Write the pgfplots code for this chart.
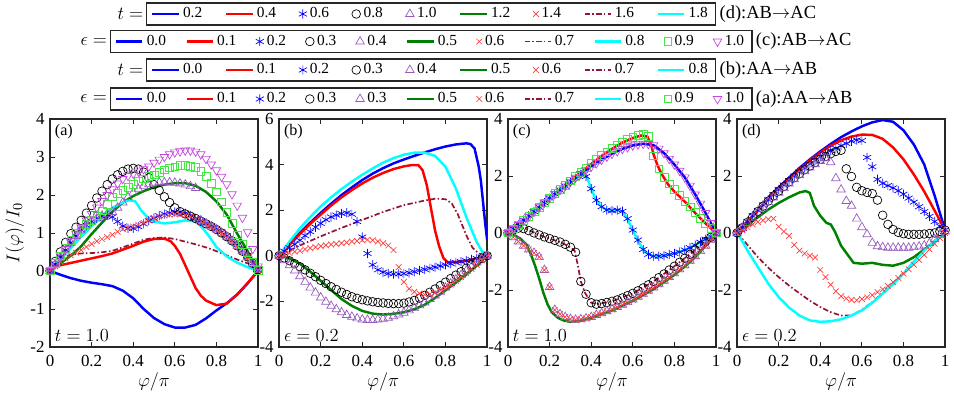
\documentclass[border=0pt]{standalone}
\usepackage{fontspec}
\setmainfont{Liberation Serif}
\usepackage{pgfplots}
\usepackage{pgfplotstable}
\pgfplotsset{compat=1.18}

\definecolor{mblue}{rgb}{0,0,1}
\definecolor{mred}{rgb}{1,0,0}
\definecolor{mgreen}{rgb}{0,0.5,0}
\definecolor{mcyan}{rgb}{0,1,1}
\definecolor{mpurple}{RGB}{150,90,190}
\definecolor{mxred}{RGB}{255,60,60}
\definecolor{mlgreen}{RGB}{70,230,70}
\definecolor{mmag}{RGB}{195,70,220}
\definecolor{mdash}{RGB}{150,20,50}

% marker series, x step 0.025
\pgfplotstableread{
x     s2    s3    s4    s6    s9    s10
0     0     0     0     0     0     0
0.025 0.18  0.25  0.18  0.12  0.2   0.18
0.05  0.36  0.5   0.36  0.24  0.4   0.38
0.075 0.55  0.75  0.55  0.33  0.6   0.58
0.1   0.74  0.98  0.74  0.41  0.8   0.78
0.125 0.92  1.15  0.92  0.48  0.98  0.97
0.15  1.08  1.33  1.08  0.55  1.1   1.15
0.175 1.2   1.52  1.2   0.63  1.22  1.33
0.2   1.3   1.72  1.3   0.71  1.33  1.5
0.225 1.38  1.92  1.38  0.78  1.45  1.67
0.25  1.44  2.1   1.45  0.84  1.58  1.84
0.275 1.46  2.27  1.5   0.89  1.75  2.0
0.3   1.42  2.42  1.55  0.95  1.95  2.15
0.325 1.3   2.53  1.66  1.03  2.05  2.3
0.35  1.18  2.62  1.8   1.1   2.12  2.42
0.375 1.12  2.68  1.94  1.14  2.2   2.5
0.4   1.12  2.7   2.06  1.17  2.28  2.56
0.425 1.16  2.68  2.16  1.21  2.35  2.62
0.45  1.24  2.6   2.24  1.26  2.42  2.68
0.475 1.32  2.45  2.29  1.33  2.48  2.75
0.5   1.39  2.27  2.32  1.39  2.53  2.85
0.525 1.45  2.12  2.33  1.43  2.6   2.93
0.55  1.5   1.95  2.33  1.46  2.66  3.0
0.575 1.53  1.8   2.33  1.48  2.71  3.07
0.6   1.55  1.66  2.32  1.49  2.74  3.12
0.625 1.55  1.56  2.3   1.49  2.77  3.15
0.65  1.52  1.5   2.27  1.47  2.77  3.17
0.675 1.46  1.44  2.23  1.43  2.75  3.17
0.7   1.38  1.38  2.18  1.37  2.72  3.14
0.725 1.32  1.31  1.33  1.3   2.62  3.07
0.75  1.25  1.24  1.25  1.23  2.48  2.95
0.775 1.18  1.17  1.17  1.16  2.3   2.8
0.8   1.1   1.09  1.09  1.08  2.08  2.65
0.825 1.02  1.0   1.0   0.99  1.82  2.48
0.85  0.92  0.9   0.9   0.89  1.55  2.28
0.875 0.8   0.79  0.79  0.78  1.25  2.02
0.9   0.68  0.66  0.66  0.65  0.95  1.72
0.925 0.53  0.52  0.52  0.51  0.7   1.4
0.95  0.37  0.37  0.37  0.36  0.48  1.02
0.975 0.2   0.2   0.2   0.19  0.24  0.58
1     0.03  0.03  0.03  0.03  0.02  0.12
}\tabA

\pgfplotstableread{
x     s2    s3    s4    s6
0     0     0     0     0
0.025 0.2   -0.1  -0.2  0.05
0.05  0.35  -0.22 -0.42 0.12
0.075 0.5   -0.35 -0.65 0.18
0.1   0.68  -0.48 -0.9  0.22
0.125 0.88  -0.62 -1.15 0.28
0.15  1.05  -0.77 -1.4  0.33
0.175 1.25  -0.92 -1.62 0.38
0.2   1.42  -1.08 -1.83 0.42
0.225 1.58  -1.22 -2.02 0.46
0.25  1.7   -1.36 -2.2  0.49
0.275 1.78  -1.48 -2.35 0.52
0.3   1.85  -1.6  -2.48 0.55
0.325 1.88  -1.7  -2.6  0.58
0.35  1.82  -1.8  -2.68 0.62
0.375 1.5   -1.87 -2.75 0.65
0.4   0.82  -1.93 -2.8  0.68
0.425 0.1   -1.98 -2.82 0.7
0.45  -0.4  -2.02 -2.82 0.68
0.475 -0.62 -2.05 -2.8  0.62
0.5   -0.72 -2.07 -2.77 0.55
0.525 -0.78 -2.09 -2.72 0.45
0.55  -0.8  -2.1  -2.66 0.25
0.575 -0.8  -2.1  -2.58 -0.5
0.6   -0.78 -2.08 -2.5  -1.15
0.625 -0.75 -2.03 -2.4  -1.45
0.65  -0.7  -1.96 -2.3  -1.58
0.675 -0.65 -1.86 -2.18 -1.65
0.7   -0.6  -1.74 -2.05 -1.7
0.725 -0.55 -1.6  -1.9  -1.68
0.75  -0.5  -1.46 -1.75 -1.62
0.775 -0.45 -1.31 -1.58 -1.52
0.8   -0.4  -1.16 -1.4  -1.4
0.825 -0.35 -1.0  -1.22 -1.26
0.85  -0.3  -0.85 -1.04 -1.1
0.875 -0.26 -0.7  -0.85 -0.94
0.9   -0.22 -0.55 -0.66 -0.77
0.925 -0.17 -0.4  -0.48 -0.58
0.95  -0.12 -0.26 -0.3  -0.4
0.975 -0.06 -0.13 -0.15 -0.2
1     0     0     0     0
}\tabB

\pgfplotstableread{
x     s2    s3    s4    s9    s10
0     0     0     0     0     0
0.025 0.15  0.1   -0.15 0.14  0.14
0.05  0.3   0.17  -0.3  0.28  0.28
0.075 0.45  0.15  -0.45 0.43  0.43
0.1   0.6   0.08  -0.58 0.58  0.57
0.125 0.75  0.0   -0.7  0.74  0.74
0.15  0.9   -0.07 -0.85 0.9   0.9
0.175 1.06  -0.14 -1.3  1.06  1.06
0.2   1.22  -0.2  -1.9  1.22  1.22
0.225 1.36  -0.26 -2.7  1.38  1.37
0.25  1.5   -0.32 -2.85 1.53  1.52
0.275 1.64  -0.4  -2.95 1.68  1.66
0.3   1.78  -0.5  -3.02 1.83  1.8
0.325 1.92  -0.68 -3.05 1.98  1.94
0.35  2.05  -1.7  -3.03 2.13  2.07
0.375 1.98  -2.15 -3.0  2.28  2.2
0.4   1.55  -2.45 -2.95 2.43  2.33
0.425 1.15  -2.5  -2.88 2.57  2.45
0.45  0.92  -2.48 -2.82 2.71  2.57
0.475 0.8   -2.44 -2.75 2.84  2.68
0.5   0.78  -2.4  -2.68 2.97  2.78
0.525 0.8   -2.35 -2.6  3.08  2.87
0.55  0.76  -2.28 -2.52 3.19  2.95
0.575 0.5   -2.2  -2.43 3.28  3.01
0.6   0.1   -2.12 -2.34 3.36  3.07
0.625 -0.25 -2.03 -2.24 3.42  3.11
0.65  -0.58 -1.93 -2.14 3.45  3.13
0.675 -0.75 -1.82 -2.03 3.38  3.12
0.7   -0.82 -1.7  -1.92 2.7   3.08
0.725 -0.82 -1.57 -1.8  2.25  2.96
0.75  -0.8  -1.44 -1.68 1.95  2.8
0.775 -0.76 -1.3  -1.55 1.72  2.6
0.8   -0.72 -1.17 -1.42 1.52  2.4
0.825 -0.67 -1.03 -1.28 1.32  2.18
0.85  -0.6  -0.89 -1.14 1.12  1.95
0.875 -0.52 -0.75 -0.98 0.92  1.66
0.9   -0.43 -0.6  -0.82 0.72  1.35
0.925 -0.33 -0.45 -0.64 0.52  1.03
0.95  -0.22 -0.3  -0.45 0.34  0.7
0.975 -0.12 -0.15 -0.24 0.17  0.35
1     -0.03 0     -0.02 0     0
}\tabC

\pgfplotstableread{
x     s2    s3    s4    s6
0     0     0     0     0
0.025 0.2   0.18  0.17  0.1
0.05  0.4   0.37  0.35  0.2
0.075 0.6   0.56  0.53  0.3
0.1   0.79  0.75  0.71  0.38
0.125 0.98  0.94  0.89  0.44
0.15  1.16  1.12  1.07  0.48
0.175 1.34  1.3   1.24  0.5
0.2   1.52  1.47  1.41  0.22
0.225 1.68  1.63  1.57  0.05
0.25  1.84  1.79  1.73  -0.1
0.275 1.99  1.94  1.88  -0.42
0.3   2.14  2.08  2.02  -0.62
0.325 2.28  2.22  2.16  -0.72
0.35  2.42  2.35  2.29  -0.8
0.375 2.55  2.47  2.41  -0.86
0.4   2.67  2.58  2.52  -1.3
0.425 2.78  2.68  2.62  -1.55
0.45  2.88  2.78  2.48  -1.82
0.475 2.97  2.86  1.92  -2.05
0.5   3.06  2.9   1.52  -2.22
0.525 3.14  2.25  1.12  -2.3
0.55  3.22  1.98  0.95  -2.35
0.575 3.26  1.6   0.5   -2.36
0.6   3.24  1.48  0.2   -2.32
0.625 2.65  1.42  -0.05 -2.26
0.65  2.32  1.38  -0.35 -2.18
0.675 1.88  1.15  -0.47 -2.08
0.7   1.74  0.62  -0.5  -1.98
0.725 1.66  0.3   -0.52 -1.86
0.75  1.58  0.12  -0.52 -1.73
0.775 1.48  0.02  -0.52 -1.58
0.8   1.36  -0.03 -0.52 -1.43
0.825 1.22  -0.05 -0.52 -1.28
0.85  1.08  -0.05 -0.5  -1.12
0.875 0.92  -0.05 -0.48 -0.95
0.9   0.75  -0.04 -0.44 -0.77
0.925 0.58  -0.02 -0.36 -0.58
0.95  0.4   0.0   -0.22 -0.38
0.975 0.24  0.05  -0.08 -0.18
1     0.1   0.1   0.05  0
}\tabD

\pgfplotsset{
  panel/.style={scale only axis, width=135.2pt, height=148.2pt,
    xmin=0, xmax=1, xtick={0,0.2,0.4,0.6,0.8,1},
    axis line style={black!85, line width=0.9pt},
    tick style={black!85, line width=0.5pt}, major tick length=3.5pt,
    tick align=inside,
    tick label style={font=\fontsize{11}{12}\selectfont},
    xticklabel style={yshift=-2pt},
    /pgf/number format/assume math mode=true,
    xlabel={$\varphi/\pi$},
    xlabel style={font=\fontsize{13}{14}\selectfont, at={(0.5,-0.155)}, anchor=center},
    legend cell align=left,
    legend style={draw=black!85, line width=1pt, anchor=center,
      font=\fontsize{10}{11}\selectfont, inner xsep=3pt, inner ysep=1pt}},
  c0/.style={color=mblue, line width=1.6pt, mark=none},
  c1/.style={color=mred, line width=1.6pt, mark=none},
  c2/.style={color=mblue, only marks, mark=asterisk, mark size=3pt, line width=0.45pt},
  c3/.style={color=black, only marks, mark=o, mark size=2.8pt, line width=0.45pt},
  c4/.style={color=mpurple, only marks, mark=triangle, mark size=3.2pt, line width=0.45pt},
  c5/.style={color=mgreen, line width=1.6pt, mark=none},
  c6/.style={color=mxred, only marks, mark=x, mark size=2.6pt, line width=0.45pt},
  c7/.style={color=mdash, line width=1.1pt, dash pattern=on 3.5pt off 1.5pt on 1pt off 1.5pt, mark=none},
  c8/.style={color=mcyan, line width=1.6pt, mark=none},
  c9/.style={color=mlgreen, only marks, mark=square, mark size=2.5pt, line width=0.45pt},
  c10/.style={color=mmag, only marks, mark=triangle, mark size=3.2pt, mark options={rotate=180}, line width=0.45pt},
  wide/.style={legend columns=11, legend style={/tikz/every even column/.append style={column sep=10.6pt}}},
  narrow/.style={legend columns=9, legend style={/tikz/every even column/.append style={column sep=12.8pt}}},
}

\begin{document}
\begin{tikzpicture}
\useasboundingbox (0,0) rectangle (620.1pt,258.7pt);

% (a)
\begin{axis}[panel, wide, at={(32.5pt,33.2pt)}, anchor=south west,
  ymin=-2, ymax=4, ytick={-2,-1,0,1,2,3,4},
  ylabel={$I(\varphi)/I_0$},
  ylabel style={font=\fontsize{13}{14}\selectfont, at={(-0.17,0.5)}, anchor=center},
  legend style={at={(1.832,1.0874)}, name=legA}]
\addplot[c0] coordinates {(0,0)(0.05,-0.1)(0.1,-0.19)(0.15,-0.26)(0.2,-0.31)(0.25,-0.35)(0.3,-0.4)(0.35,-0.52)(0.4,-0.72)(0.45,-1.0)(0.5,-1.24)(0.55,-1.4)(0.6,-1.49)(0.65,-1.49)(0.7,-1.42)(0.75,-1.25)(0.8,-1.04)(0.85,-0.85)(0.9,-0.62)(0.95,-0.33)(1,0)};
\addplot[c1] coordinates {(0,0)(0.02,0.1)(0.05,0.15)(0.1,0.21)(0.15,0.27)(0.2,0.33)(0.25,0.39)(0.3,0.46)(0.35,0.56)(0.4,0.66)(0.45,0.77)(0.5,0.84)(0.55,0.85)(0.58,0.78)(0.6,0.66)(0.625,0.45)(0.65,0.15)(0.675,-0.15)(0.7,-0.45)(0.725,-0.65)(0.75,-0.78)(0.8,-0.9)(0.85,-0.86)(0.9,-0.62)(0.95,-0.32)(1,0)};
\addplot[c2] table[x=x,y=s2]{\tabA};
\addplot[c3] table[x=x,y=s3]{\tabA};
\addplot[c4] table[x=x,y=s4]{\tabA};
\addplot[c5] coordinates {(0,0)(0.05,0.2)(0.1,0.4)(0.15,0.65)(0.2,0.97)(0.25,1.27)(0.3,1.56)(0.35,1.8)(0.4,1.97)(0.45,2.1)(0.5,2.2)(0.55,2.27)(0.6,2.31)(0.65,2.31)(0.7,2.24)(0.75,2.08)(0.8,1.83)(0.85,1.48)(0.9,0.98)(0.95,0.52)(1,0)};
\addplot[c6] table[x=x,y=s6]{\tabA};
\addplot[c7] coordinates {(0,0)(0.03,0.2)(0.06,0.35)(0.1,0.43)(0.15,0.46)(0.2,0.47)(0.25,0.49)(0.3,0.53)(0.35,0.62)(0.4,0.72)(0.45,0.82)(0.5,0.87)(0.55,0.88)(0.6,0.84)(0.65,0.77)(0.7,0.7)(0.75,0.62)(0.8,0.52)(0.85,0.41)(0.9,0.3)(0.95,0.2)(0.98,0.12)(1,0)};
\addplot[c8] coordinates {(0,0)(0.05,0.3)(0.1,0.6)(0.15,0.9)(0.2,1.18)(0.25,1.45)(0.3,1.66)(0.35,1.8)(0.38,1.86)(0.41,1.83)(0.44,1.58)(0.47,1.4)(0.5,1.3)(0.55,1.25)(0.6,1.28)(0.65,1.33)(0.7,1.3)(0.73,1.15)(0.76,0.95)(0.8,0.63)(0.85,0.38)(0.9,0.22)(0.95,0.1)(1,0)};
\addplot[c9] table[x=x,y=s9]{\tabA};
\addplot[c10] table[x=x,y=s10]{\tabA};
\legend{0.0,0.1,0.2,0.3,0.3,0.5,0.6,0.7,0.8,0.9,1.0}
\node[anchor=north west, font=\fontsize{10.5}{12}\selectfont, inner sep=3pt] at (rel axis cs:0,1) {(a)};
\node[anchor=south west, font=\fontsize{12}{12}\selectfont, inner sep=3pt] at (rel axis cs:0,0) {$t=1.0$};
\end{axis}

% (b)
\begin{axis}[panel, narrow, at={(181.4pt,33.2pt)}, anchor=south west,
  ymin=-4, ymax=6, ytick={-4,-2,0,2,4,6},
  legend style={at={(0.7308,1.2146)}, name=legB}]
\addplot[c0] coordinates {(0,0)(0.05,0.5)(0.1,1.0)(0.15,1.45)(0.2,1.88)(0.25,2.28)(0.3,2.66)(0.35,3.0)(0.4,3.32)(0.45,3.6)(0.5,3.84)(0.55,4.05)(0.6,4.22)(0.65,4.38)(0.7,4.53)(0.75,4.67)(0.8,4.79)(0.85,4.88)(0.9,4.93)(0.92,4.9)(0.94,4.7)(0.96,3.9)(0.97,3.3)(0.98,2.4)(0.99,1.5)(1,0.7)};
\addplot[c1] coordinates {(0,0)(0.05,0.48)(0.1,0.95)(0.15,1.4)(0.2,1.8)(0.25,2.2)(0.3,2.56)(0.35,2.88)(0.4,3.17)(0.45,3.42)(0.5,3.63)(0.55,3.8)(0.6,3.92)(0.64,3.98)(0.67,3.97)(0.69,3.75)(0.71,3.1)(0.73,2.1)(0.75,1.1)(0.77,0.4)(0.79,-0.1)(0.81,-0.28)(0.85,-0.27)(0.9,-0.22)(0.95,-0.12)(1,0)};
\addplot[c2] table[x=x,y=s2]{\tabB};
\addplot[c3] table[x=x,y=s3]{\tabB};
\addplot[c4] table[x=x,y=s4]{\tabB};
\addplot[c5] coordinates {(0,0)(0.05,-0.12)(0.1,-0.35)(0.15,-0.7)(0.2,-1.1)(0.25,-1.5)(0.3,-1.9)(0.35,-2.2)(0.4,-2.42)(0.45,-2.54)(0.5,-2.58)(0.55,-2.55)(0.6,-2.48)(0.65,-2.35)(0.7,-2.15)(0.75,-1.85)(0.8,-1.52)(0.85,-1.18)(0.9,-0.83)(0.95,-0.43)(1,0)};
\addplot[c6] table[x=x,y=s6]{\tabB};
\addplot[c7] coordinates {(0,0)(0.1,0.45)(0.2,0.85)(0.3,1.22)(0.4,1.57)(0.5,1.92)(0.6,2.22)(0.7,2.42)(0.75,2.5)(0.8,2.48)(0.83,2.3)(0.86,1.8)(0.9,0.9)(0.93,0.35)(0.96,0.1)(1,0)};
\addplot[c8] coordinates {(0,0)(0.05,0.62)(0.1,1.2)(0.15,1.7)(0.2,2.16)(0.25,2.56)(0.3,2.92)(0.35,3.25)(0.4,3.55)(0.45,3.83)(0.5,4.08)(0.55,4.28)(0.6,4.43)(0.65,4.52)(0.7,4.52)(0.75,4.38)(0.8,3.9)(0.85,2.95)(0.9,1.7)(0.95,0.6)(0.975,0.2)(1,0.07)};
\legend{0.0,0.1,0.2,0.3,0.4,0.5,0.6,0.7,0.8}
\node[anchor=north west, font=\fontsize{10.5}{12}\selectfont, inner sep=3pt] at (rel axis cs:0,1) {(b)};
\node[anchor=south west, font=\fontsize{12}{12}\selectfont, inner sep=3pt] at (rel axis cs:0,0) {$\epsilon=0.2$};
\end{axis}

% (c)
\begin{axis}[panel, wide, at={(330.2pt,33.2pt)}, anchor=south west,
  ymin=-4, ymax=4, ytick={-4,-2,0,2,4},
  legend style={at={(-0.3698,1.3394)}, name=legC}]
\addplot[c0] coordinates {(0,0)(0.05,0.28)(0.1,0.57)(0.15,0.9)(0.2,1.22)(0.25,1.52)(0.3,1.8)(0.35,2.07)(0.4,2.33)(0.45,2.57)(0.5,2.78)(0.55,2.95)(0.6,3.07)(0.65,3.13)(0.7,3.08)(0.75,2.8)(0.8,2.4)(0.85,1.95)(0.9,1.35)(0.95,0.7)(1,0)};
\addplot[c1] coordinates {(0,0)(0.05,0.28)(0.1,0.57)(0.15,0.9)(0.2,1.22)(0.25,1.52)(0.3,1.82)(0.35,2.12)(0.4,2.42)(0.45,2.7)(0.5,2.95)(0.55,3.17)(0.6,3.33)(0.64,3.42)(0.67,3.38)(0.69,3.05)(0.7,2.75)(0.72,2.35)(0.74,2.05)(0.77,1.7)(0.8,1.45)(0.85,1.1)(0.9,0.7)(0.95,0.33)(1,0)};
\addplot[c2] table[x=x,y=s2]{\tabC};
\addplot[c3] table[x=x,y=s3]{\tabC};
\addplot[c4] table[x=x,y=s4]{\tabC};
\addplot[c5] coordinates {(0,0)(0.03,-0.08)(0.06,-0.2)(0.09,-0.42)(0.11,-0.75)(0.13,-1.15)(0.15,-1.6)(0.17,-2.1)(0.19,-2.5)(0.21,-2.78)(0.24,-2.98)(0.27,-3.08)(0.3,-3.12)(0.35,-3.08)(0.4,-2.98)(0.45,-2.85)(0.5,-2.72)(0.55,-2.55)(0.6,-2.38)(0.65,-2.18)(0.7,-1.97)(0.75,-1.73)(0.8,-1.47)(0.85,-1.18)(0.9,-0.85)(0.95,-0.45)(1,-0.02)};
\addplot[c6] table[x=x,y=s4]{\tabC};
\addplot[c7] coordinates {(0,0)(0.05,0.17)(0.08,0.16)(0.12,0.03)(0.15,-0.07)(0.2,-0.2)(0.25,-0.32)(0.3,-0.5)(0.32,-0.62)(0.335,-1.1)(0.35,-1.7)(0.37,-2.1)(0.4,-2.45)(0.43,-2.5)(0.5,-2.4)(0.6,-2.12)(0.7,-1.7)(0.8,-1.17)(0.9,-0.6)(1,0)};
\addplot[c8] coordinates {(0,0)(0.05,0.3)(0.1,0.6)(0.15,0.9)(0.2,1.22)(0.25,1.5)(0.3,1.78)(0.34,2.0)(0.36,2.08)(0.38,1.95)(0.4,1.55)(0.42,1.2)(0.44,0.98)(0.47,0.82)(0.5,0.78)(0.53,0.8)(0.55,0.75)(0.57,0.55)(0.6,0.1)(0.63,-0.35)(0.66,-0.68)(0.7,-0.82)(0.75,-0.8)(0.8,-0.72)(0.85,-0.6)(0.9,-0.42)(0.95,-0.22)(1,-0.03)};
\addplot[c9] table[x=x,y=s9]{\tabC};
\addplot[c10] table[x=x,y=s10]{\tabC};
\legend{0.0,0.1,0.2,0.3,0.4,0.5,0.6,0.7,0.8,0.9,1.0}
\node[anchor=north west, font=\fontsize{10.5}{12}\selectfont, inner sep=3pt] at (rel axis cs:0,1) {(c)};
\node[anchor=south west, font=\fontsize{12}{12}\selectfont, inner sep=3pt] at (rel axis cs:0,0) {$t=1.0$};
\end{axis}

% (d)
\begin{axis}[panel, narrow, at={(479.1pt,33.2pt)}, anchor=south west,
  ymin=-4, ymax=4, ytick={-4,-2,0,2,4},
  legend style={at={(-1.4712,1.4602)}, name=legD}]
\addplot[c0] coordinates {(0,0)(0.05,0.4)(0.1,0.8)(0.15,1.2)(0.2,1.58)(0.25,1.94)(0.3,2.28)(0.35,2.58)(0.4,2.86)(0.45,3.12)(0.5,3.36)(0.55,3.56)(0.6,3.74)(0.65,3.88)(0.7,3.96)(0.75,3.9)(0.8,3.6)(0.85,3.1)(0.9,2.4)(0.95,1.3)(1,0.1)};
\addplot[c1] coordinates {(0,0)(0.05,0.4)(0.1,0.8)(0.15,1.2)(0.2,1.57)(0.25,1.92)(0.3,2.24)(0.35,2.55)(0.4,2.82)(0.45,3.06)(0.5,3.25)(0.55,3.38)(0.6,3.45)(0.65,3.44)(0.7,3.3)(0.75,3.0)(0.8,2.58)(0.85,2.05)(0.9,1.45)(0.95,0.78)(1,0.1)};
\addplot[c2] table[x=x,y=s2]{\tabD};
\addplot[c3] table[x=x,y=s3]{\tabD};
\addplot[c4] table[x=x,y=s4]{\tabD};
\addplot[c5] coordinates {(0,0)(0.05,0.28)(0.1,0.55)(0.15,0.82)(0.2,1.05)(0.25,1.25)(0.3,1.42)(0.33,1.47)(0.35,1.4)(0.37,0.95)(0.4,0.6)(0.43,0.35)(0.45,0.3)(0.47,0.05)(0.5,-0.45)(0.53,-0.75)(0.56,-1.05)(0.6,-1.08)(0.65,-1.05)(0.7,-1.12)(0.75,-1.15)(0.8,-1.05)(0.85,-0.85)(0.9,-0.58)(0.95,-0.3)(1,0)};
\addplot[c6] table[x=x,y=s6]{\tabD};
\addplot[c7] coordinates {(0,0)(0.05,-0.42)(0.1,-0.85)(0.15,-1.22)(0.2,-1.55)(0.25,-1.85)(0.3,-2.12)(0.35,-2.38)(0.4,-2.6)(0.45,-2.78)(0.5,-2.9)(0.55,-2.9)(0.6,-2.7)(0.65,-2.43)(0.7,-2.1)(0.75,-1.77)(0.8,-1.4)(0.85,-1.0)(0.9,-0.6)(0.95,-0.27)(1,0)};
\addplot[c8] coordinates {(0,0)(0.03,-0.35)(0.05,-0.62)(0.1,-1.2)(0.15,-1.78)(0.2,-2.25)(0.25,-2.62)(0.3,-2.9)(0.35,-3.07)(0.4,-3.12)(0.45,-3.1)(0.5,-3.03)(0.55,-2.9)(0.6,-2.72)(0.65,-2.45)(0.7,-2.13)(0.75,-1.8)(0.8,-1.43)(0.85,-1.02)(0.9,-0.62)(0.95,-0.28)(1,0)};
\legend{0.2,0.4,0.6,0.8,1.0,1.2,1.4,1.6,1.8}
\node[anchor=north west, font=\fontsize{10.5}{12}\selectfont, inner sep=3pt] at (rel axis cs:0,1) {(d)};
\node[anchor=south west, font=\fontsize{12}{12}\selectfont, inner sep=3pt] at (rel axis cs:0,0) {$\epsilon=0.2$};
\end{axis}

% row labels beside the legend boxes
\begin{scope}[font=\fontsize{12}{12}\selectfont]
\node[anchor=east, inner sep=1.5pt] at (legD.west) {$t=$};
\node[anchor=east, inner sep=1.5pt] at (legC.west) {$\epsilon=$};
\node[anchor=east, inner sep=1.5pt] at (legB.west) {$t=$};
\node[anchor=east, inner sep=1.5pt] at (legA.west) {$\epsilon=$};
\node[anchor=west, inner sep=2pt] at (legD.east) {(d):AB$\rightarrow$AC};
\node[anchor=west, inner sep=2pt] at (legC.east) {(c):AB$\rightarrow$AC};
\node[anchor=west, inner sep=2pt] at (legB.east) {(b):AA$\rightarrow$AB};
\node[anchor=west, inner sep=2pt] at (legA.east) {(a):AA$\rightarrow$AB};
\end{scope}
\end{tikzpicture}
\end{document}
